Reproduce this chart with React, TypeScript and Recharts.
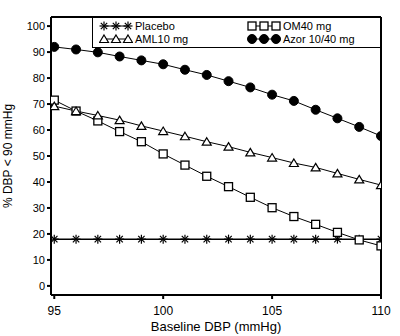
import React from 'react';
import { LineChart, Line, XAxis, YAxis, ReferenceLine } from 'recharts';

const baselineDBP = [95, 96, 97, 98, 99, 100, 101, 102, 103, 104, 105, 106, 107, 108, 109, 110];
const placebo = [18, 18, 18, 18, 18, 18, 18, 18, 18, 18, 18, 18, 18, 18, 18, 18];
const om40 = [71.5, 67.3, 63.5, 59.4, 55.5, 50.8, 46.5, 42.2, 38.2, 34.1, 30.1, 26.7, 23.7, 20.6, 17.7, 15.4];
const aml10 = [69.2, 67.3, 65.6, 63.8, 61.6, 59.6, 57.6, 55.5, 53.6, 51.4, 49.4, 47.3, 45.6, 43.3, 41.0, 38.8];
const azor = [92.0, 91.0, 89.9, 88.3, 86.8, 85.3, 83.2, 81.2, 78.8, 76.4, 73.6, 71.2, 67.8, 64.5, 61.2, 57.7];
const xTicks = [95, 100, 105, 110];
const yTicks = [0, 10, 20, 30, 40, 50, 60, 70, 80, 90, 100];

const data = baselineDBP.map((x, i) => ({
  x,
  placebo: placebo[i],
  om40: om40[i],
  aml10: aml10[i],
  azor: azor[i],
}));

const FONT = '"Liberation Sans", Arial, sans-serif';

const Star = (props: any) => {
  const { cx, cy } = props;
  if (cx == null || cy == null) return null;
  const r = 4.5;
  return (
    <g stroke="#000" strokeWidth={1.2}>
      <line x1={cx - r} y1={cy} x2={cx + r} y2={cy} />
      <line x1={cx} y1={cy - r} x2={cx} y2={cy + r} />
      <line x1={cx - 3.2} y1={cy - 3.2} x2={cx + 3.2} y2={cy + 3.2} />
      <line x1={cx - 3.2} y1={cy + 3.2} x2={cx + 3.2} y2={cy - 3.2} />
    </g>
  );
};

const Square = (props: any) => {
  const { cx, cy } = props;
  if (cx == null || cy == null) return null;
  return <rect x={cx - 4} y={cy - 4} width={8} height={8} fill="#fff" stroke="#000" strokeWidth={1.3} />;
};

const Tri = (props: any) => {
  const { cx, cy } = props;
  if (cx == null || cy == null) return null;
  return (
    <polygon
      points={`${cx},${cy - 4} ${cx + 4.5},${cy + 3.5} ${cx - 4.5},${cy + 3.5}`}
      fill="#fff"
      stroke="#000"
      strokeWidth={1.2}
    />
  );
};

const Dot = (props: any) => {
  const { cx, cy } = props;
  if (cx == null || cy == null) return null;
  return <circle cx={cx} cy={cy} r={4.5} fill="#000" stroke="#000" />;
};

const LegendIcon = ({ Marker }: { Marker: any }) => (
  <svg width={34} height={12} style={{ display: 'block' }}>
    <line x1={5} y1={6} x2={29} y2={6} stroke="#000" strokeWidth={1} />
    <Marker cx={5} cy={6} />
    <Marker cx={17} cy={6} />
    <Marker cx={29} cy={6} />
  </svg>
);

const legendItems = [
  { label: 'Placebo', Marker: Star, left: 6, top: 2 },
  { label: 'OM40 mg', Marker: Square, left: 154, top: 2 },
  { label: 'AML10 mg', Marker: Tri, left: 6, top: 15 },
  { label: 'Azor 10/40 mg', Marker: Dot, left: 154, top: 15 },
];

const LegendBox = () => (
  <div
    style={{
      position: 'absolute',
      left: 92,
      top: 17,
      width: 289,
      height: 31,
      boxSizing: 'border-box',
      border: '1.5px solid #000',
      background: '#fff',
      fontFamily: FONT,
      fontSize: 11,
    }}
  >
    {legendItems.map((it) => (
      <div
        key={it.label}
        style={{ position: 'absolute', left: it.left, top: it.top, display: 'flex', alignItems: 'center', lineHeight: '12px' }}
      >
        <LegendIcon Marker={it.Marker} />
        <span style={{ marginLeft: 2 }}>{it.label}</span>
      </div>
    ))}
  </div>
);

export default function App() {
  return (
    <div style={{ position: 'absolute', left: 0, top: 0, width: 400, height: 336, background: '#fff' }}>
      <LineChart width={400} height={336} data={data} margin={{ top: 17, right: 19, left: 0, bottom: 0 }}>
        <XAxis
          dataKey="x"
          type="number"
          domain={[94.85, 110]}
          ticks={xTicks}
          allowDataOverflow
          height={41}
          stroke="#000"
          strokeWidth={2}
          tickSize={4}
          tick={{ fill: '#000', fontFamily: FONT, fontSize: 12, dy: 5 }}
          label={{ value: 'Baseline DBP (mmHg)', position: 'insideBottom', offset: 5, fill: '#000', fontFamily: FONT, fontSize: 13 }}
        />
        <YAxis
          type="number"
          domain={[-3.5, 103.5]}
          ticks={yTicks}
          allowDataOverflow
          width={51}
          stroke="#000"
          strokeWidth={2}
          tickSize={4}
          tick={{ fill: '#000', fontFamily: FONT, fontSize: 11 }}
          label={{ value: '% DBP < 90 mmHg', angle: -90, position: 'insideLeft', offset: 8, dy: 0, fill: '#000', fontFamily: FONT, fontSize: 12, style: { textAnchor: 'middle' } }}
        />
        <ReferenceLine y={103.5} stroke="#000" strokeWidth={2} />
        <ReferenceLine x={110} stroke="#000" strokeWidth={2} />
        <Line dataKey="placebo" stroke="#000" strokeWidth={1.5} dot={<Star />} isAnimationActive={false} />
        <Line dataKey="om40" stroke="#000" strokeWidth={1} dot={<Square />} isAnimationActive={false} />
        <Line dataKey="aml10" stroke="#000" strokeWidth={1} dot={<Tri />} isAnimationActive={false} />
        <Line dataKey="azor" stroke="#000" strokeWidth={1} dot={<Dot />} isAnimationActive={false} />
      </LineChart>
      <LegendBox />
    </div>
  );
}
